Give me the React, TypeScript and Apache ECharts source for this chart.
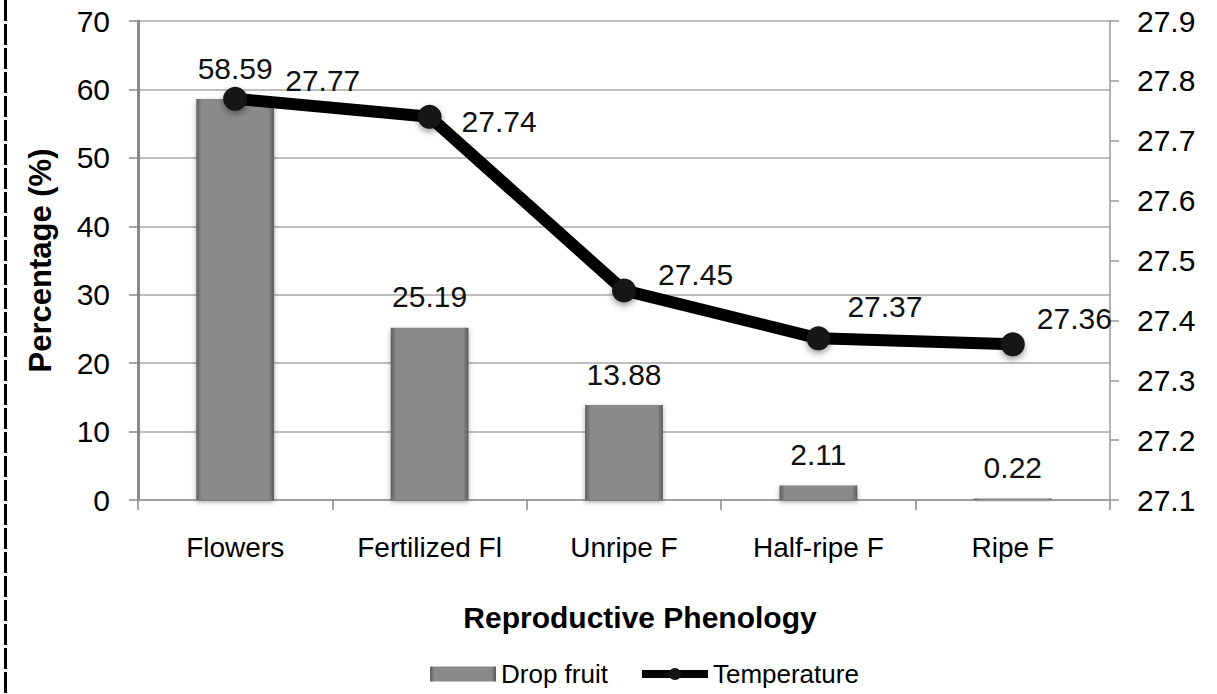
import React, { useEffect, useRef } from "react";
import * as echarts from "echarts";

const categories = ["Flowers", "Fertilized Fl", "Unripe F", "Half-ripe F", "Ripe F"];
const dropFruit = [58.59, 25.19, 13.88, 2.11, 0.22];
const temperature = [27.77, 27.74, 27.45, 27.37, 27.36];
const leftTicks = { min: 0, max: 70, interval: 10 };
const rightTicks = { min: 27.1, max: 27.9, interval: 0.1 };
// label offsets (style) for the temperature labels
const tempLabelOffsets = [
  [38, -18],
  [20, 5],
  [22, -16],
  [17, -32],
  [12, -26],
];

const FONT = "'Liberation Sans', Arial, sans-serif";

export default function App() {
  const ref = useRef<HTMLDivElement>(null);
  useEffect(() => {
    if (!ref.current) return;
    const chart = echarts.init(ref.current, undefined, { renderer: "svg" });
    const barColor = new echarts.graphic.LinearGradient(0, 0, 1, 0, [
      { offset: 0, color: "#5e5e5e" },
      { offset: 0.07, color: "#8a8a8a" },
      { offset: 0.93, color: "#8a8a8a" },
      { offset: 1, color: "#5a5a5a" },
    ]);
    chart.setOption({
      animation: false,
      backgroundColor: "#ffffff",
      textStyle: { fontFamily: FONT },
      grid: { left: 138, right: 107, top: 21, bottom: 194, containLabel: false },
      legend: {
        bottom: 2,
        left: 425,
        itemGap: 30,
        itemWidth: 66,
        itemHeight: 15,
        textStyle: { fontFamily: FONT, fontSize: 26, color: "#000" },
        data: [
          { name: "Drop fruit", icon: "rect" },
          { name: "Temperature", lineStyle: { width: 8, color: "#000" } },
        ],
      },
      xAxis: {
        type: "category",
        data: categories,
        name: "Reproductive Phenology",
        nameLocation: "middle",
        nameGap: 102,
        nameTextStyle: {
          fontFamily: FONT,
          fontSize: 30,
          fontWeight: "bold",
          color: "#000",
          padding: [0, 0, 0, 32],
        },
        axisLine: { show: true, lineStyle: { color: "#a0a0a0", width: 2 } },
        axisTick: { show: true, alignWithLabel: false, length: 10, lineStyle: { color: "#888", width: 1.5 } },
        axisLabel: { fontFamily: FONT, fontSize: 28, color: "#000", margin: 33 },
      },
      yAxis: [
        {
          type: "value",
          min: leftTicks.min,
          max: leftTicks.max,
          interval: leftTicks.interval,
          name: "Percentage (%)",
          nameLocation: "middle",
          nameGap: 82,
          nameRotate: 90,
          nameTextStyle: { fontFamily: FONT, fontSize: 31, fontWeight: "bold", color: "#000" },
          axisLine: { show: true, lineStyle: { color: "#888", width: 3 } },
          axisTick: { show: true, length: 9, lineStyle: { color: "#888", width: 1.5 } },
          axisLabel: { fontFamily: FONT, fontSize: 30, color: "#000", margin: 28 },
          splitLine: { show: true, lineStyle: { color: "#a8a8a8", width: 1.5 } },
        },
        {
          type: "value",
          min: rightTicks.min,
          max: rightTicks.max,
          interval: rightTicks.interval,
          position: "right",
          axisLine: { show: true, lineStyle: { color: "#999", width: 1.5 } },
          axisTick: { show: true, length: 9, lineStyle: { color: "#999", width: 1.5 } },
          axisLabel: {
            fontFamily: FONT,
            fontSize: 30,
            color: "#000",
            margin: 27,
            formatter: (v: number) => v.toFixed(1),
          },
          splitLine: { show: false },
        },
      ],
      series: [
        {
          name: "Drop fruit",
          type: "bar",
          yAxisIndex: 0,
          barWidth: "40%",
          data: dropFruit,
          itemStyle: {
            color: barColor,
            shadowBlur: 5,
            shadowColor: "rgba(0,0,0,0.35)",
            shadowOffsetY: 2,
          },
          label: {
            show: true,
            position: "top",
            distance: 16,
            fontFamily: FONT,
            fontSize: 30,
            color: "#111",
            formatter: (p: any) => p.value.toFixed(2),
          },
          z: 2,
        },
        {
          name: "Temperature",
          type: "line",
          yAxisIndex: 1,
          data: temperature.map((v, i) => ({
            value: v,
            label: { offset: tempLabelOffsets[i] },
          })),
          symbol: "circle",
          symbolSize: 24,
          lineStyle: { color: "#000", width: 12 },
          itemStyle: {
            color: "#151515",
            shadowBlur: 6,
            shadowColor: "rgba(0,0,0,0.4)",
            shadowOffsetY: 3,
          },
          label: {
            show: true,
            position: "right",
            distance: 0,
            fontFamily: FONT,
            fontSize: 30,
            color: "#111",
            formatter: (p: any) => Number(p.value).toFixed(2),
          },
          z: 3,
        },
      ],
      graphic: [
        {
          type: "line",
          shape: { x1: 5.5, y1: 0, x2: 5.5, y2: 694 },
          style: { stroke: "#000", lineWidth: 3, lineDash: [21, 3] },
        },
      ],
    });
    return () => chart.dispose();
  }, []);
  return (
    <div
      ref={ref}
      style={{ position: "fixed", left: 0, top: 0, width: 1217, height: 694, background: "#fff" }}
    />
  );
}
